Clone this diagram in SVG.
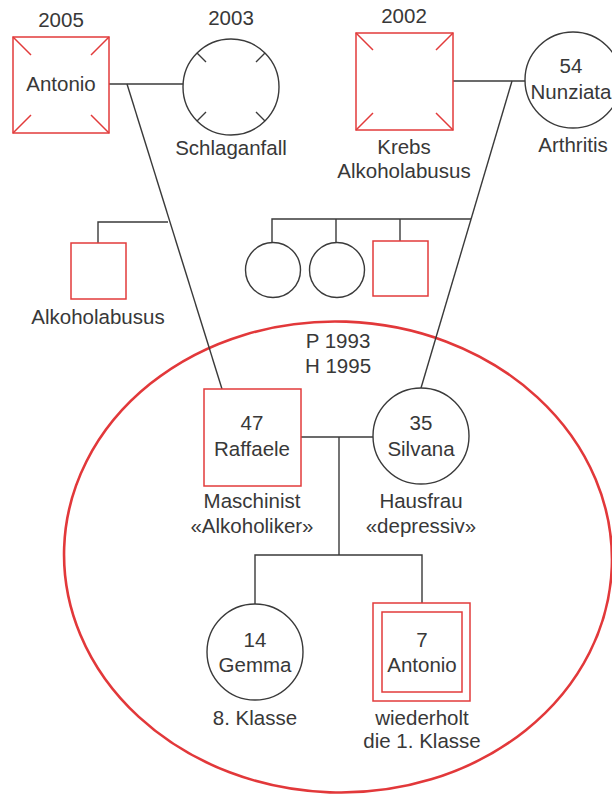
<svg xmlns="http://www.w3.org/2000/svg" width="612" height="794" viewBox="0 0 612 794">
  <style>
    text { font-family: "Liberation Sans", Arial, sans-serif; font-size: 20.5px; fill: #383838; text-anchor: middle; }
    .m { fill: #fff; stroke: #e23b3b; stroke-width: 1.5; }
    .f { fill: #fff; stroke: #3a3a3a; stroke-width: 1.4; }
    .tick-r { stroke: #e23b3b; stroke-width: 1.5; }
    .tick-k { stroke: #3a3a3a; stroke-width: 1.4; }
    .ln { fill: none; stroke: #3a3a3a; stroke-width: 1.4; }
    .zone { fill: none; stroke: #e2383a; stroke-width: 2.6; }
  </style>
  <rect width="612" height="794" fill="#fff"/>

  <!-- household boundary -->
  <ellipse id="household" class="zone" cx="338" cy="557" rx="274" ry="235.5" transform="rotate(2 338 557)"/>

  <!-- connectors -->
  <g id="connectors" class="ln">
    <path d="M109 84 H183"/>
    <path d="M127 84 L222 389"/>
    <path d="M98 243 V222 H168"/>
    <path d="M453 81 H525"/>
    <path d="M512 81 L421 388"/>
    <path d="M272 242 V219 H471"/>
    <path d="M336 242 V219"/>
    <path d="M400 241 V219"/>
    <path d="M301 437 H373"/>
    <path d="M339 437 V555"/>
    <path d="M255 604 V555 H422 V603"/>
  </g>

  <!-- grandfather (paternal), deceased -->
  <g id="antonio-sr">
    <text x="61" y="27">2005</text>
    <rect class="m" x="13" y="37" width="96" height="96"/>
    <path class="tick-r" d="M13 37 l18 18 M109 37 l-18 18 M13 133 l18 -18 M109 133 l-18 -18"/>
    <text x="61" y="91">Antonio</text>
  </g>

  <!-- grandmother (paternal), deceased -->
  <g id="grandmother-p">
    <text x="231" y="25">2003</text>
    <circle class="f" cx="231" cy="87" r="48"/>
    <path class="tick-k" d="M197 53 l9 9 M265 53 l-9 9 M197 121 l9 -9 M265 121 l-9 -9"/>
    <text x="231" y="155">Schlaganfall</text>
  </g>

  <!-- uncle -->
  <g id="uncle">
    <rect class="m" x="71" y="243" width="55" height="56"/>
    <text x="98" y="324">Alkoholabusus</text>
  </g>

  <!-- grandfather (maternal), deceased -->
  <g id="grandfather-m">
    <text x="404" y="23">2002</text>
    <rect class="m" x="356" y="33" width="97" height="97"/>
    <path class="tick-r" d="M356 33 l17 17 M453 33 l-17 17 M356 130 l17 -17 M453 130 l-17 -17"/>
    <text x="404" y="154">Krebs</text>
    <text x="404" y="178">Alkoholabusus</text>
  </g>

  <!-- grandmother (maternal) -->
  <g id="nunziata">
    <circle class="f" cx="573" cy="80" r="48"/>
    <text x="571" y="73">54</text>
    <text x="571" y="99">Nunziata</text>
    <text x="573" y="152">Arthritis</text>
  </g>

  <!-- aunts and uncle (maternal) -->
  <g id="aunt-1"><circle class="f" cx="273" cy="270" r="27.5"/></g>
  <g id="aunt-2"><circle class="f" cx="337" cy="270" r="27.5"/></g>
  <g id="uncle-m"><rect class="m" x="373" y="241" width="55" height="55"/></g>

  <!-- couple dates -->
  <g id="couple-dates">
    <text x="338" y="348">P 1993</text>
    <text x="338" y="373">H 1995</text>
  </g>

  <!-- father -->
  <g id="raffaele">
    <rect class="m" x="204" y="389" width="97" height="97"/>
    <text x="252" y="430">47</text>
    <text x="252" y="456">Raffaele</text>
    <text x="252" y="508">Maschinist</text>
    <text x="252" y="533">«Alkoholiker»</text>
  </g>

  <!-- mother -->
  <g id="silvana">
    <circle class="f" cx="421" cy="436" r="48"/>
    <text x="421" y="430">35</text>
    <text x="421" y="456">Silvana</text>
    <text x="421" y="508">Hausfrau</text>
    <text x="421" y="533">«depressiv»</text>
  </g>

  <!-- daughter -->
  <g id="gemma">
    <circle class="f" cx="255" cy="652" r="48"/>
    <text x="255" y="647">14</text>
    <text x="255" y="672">Gemma</text>
    <text x="255" y="725">8. Klasse</text>
  </g>

  <!-- index person -->
  <g id="antonio">
    <rect class="m" x="373" y="603" width="97" height="98"/>
    <rect class="m" x="382" y="612" width="80" height="80"/>
    <text x="422" y="647">7</text>
    <text x="422" y="672">Antonio</text>
    <text x="422" y="725">wiederholt</text>
    <text x="422" y="748">die 1. Klasse</text>
  </g>
</svg>
